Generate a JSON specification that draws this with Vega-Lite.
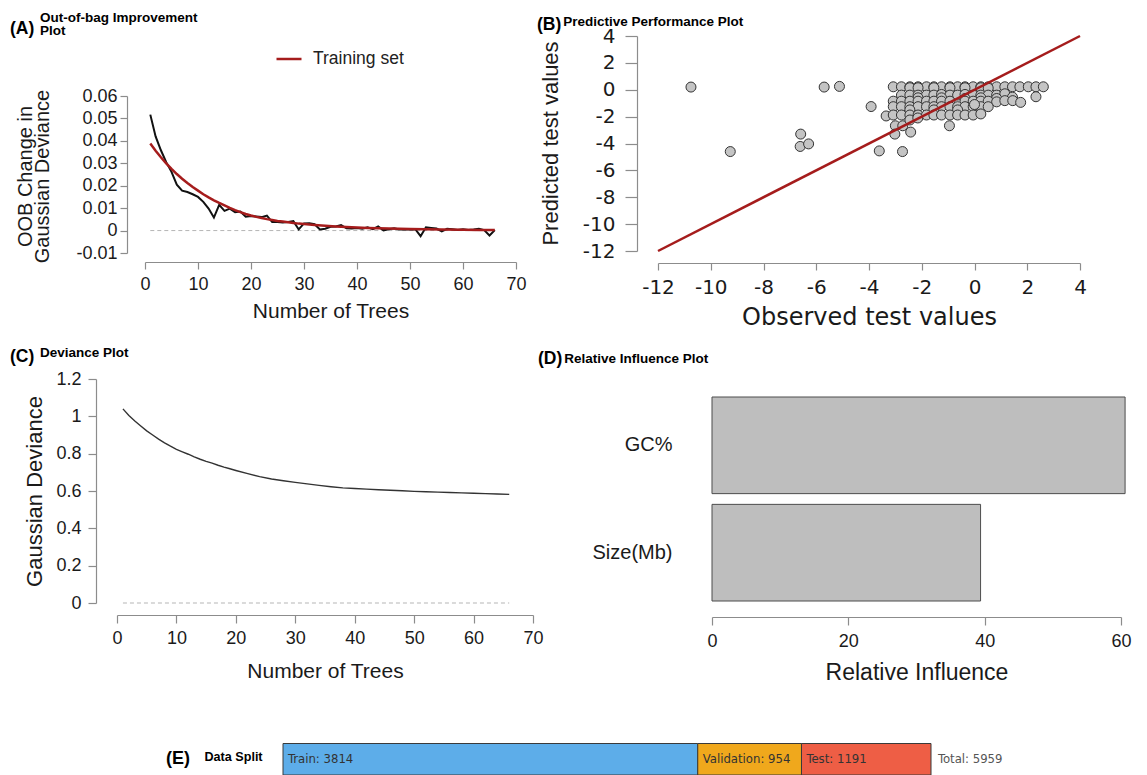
{
  "$schema": "https://vega.github.io/schema/vega-lite/v6.json",
  "padding": 0,
  "columns": 2,
  "bounds": "flush",
  "spacing": 0,
  "resolve": {"scale": {"color": "independent"}, "legend": {"color": "independent"}},
  "datasets": {
    "zeroA": [{"tree": 1, "tree_end": 66, "value": 0}],
    "oob": [
      {"tree":1,"value":0.0517},{"tree":2,"value":0.042},{"tree":3,"value":0.0358},{"tree":4,"value":0.0305},{"tree":5,"value":0.0262},
      {"tree":6,"value":0.0205},{"tree":7,"value":0.0178},{"tree":8,"value":0.0172},{"tree":9,"value":0.0162},{"tree":10,"value":0.015},
      {"tree":11,"value":0.0128},{"tree":12,"value":0.0098},{"tree":13,"value":0.0058},{"tree":14,"value":0.0115},{"tree":15,"value":0.0088},
      {"tree":16,"value":0.0098},{"tree":17,"value":0.0082},{"tree":18,"value":0.0085},{"tree":19,"value":0.0062},{"tree":20,"value":0.0065},
      {"tree":21,"value":0.0063},{"tree":22,"value":0.006},{"tree":23,"value":0.0067},{"tree":24,"value":0.0038},{"tree":25,"value":0.0038},
      {"tree":26,"value":0.0036},{"tree":27,"value":0.0038},{"tree":28,"value":0.0042},{"tree":29,"value":0.0005},{"tree":30,"value":0.0032},
      {"tree":31,"value":0.0033},{"tree":32,"value":0.0028},{"tree":33,"value":0.0005},{"tree":34,"value":0.0008},{"tree":35,"value":0.0017},
      {"tree":36,"value":0.0018},{"tree":37,"value":0.0025},{"tree":38,"value":0.001},{"tree":39,"value":0.0009},{"tree":40,"value":0.0011},
      {"tree":41,"value":0.0008},{"tree":42,"value":0.0015},{"tree":43,"value":0.0006},{"tree":44,"value":0.0018},{"tree":45,"value":0.0001},
      {"tree":46,"value":0.0006},{"tree":47,"value":0.001},{"tree":48,"value":0.0005},{"tree":49,"value":0.0006},{"tree":50,"value":0.0005},
      {"tree":51,"value":0.0006},{"tree":52,"value":-0.0025},{"tree":53,"value":0.0015},{"tree":54,"value":0.0012},{"tree":55,"value":0.0009},
      {"tree":56,"value":-0.0004},{"tree":57,"value":0.0008},{"tree":58,"value":0.0006},{"tree":59,"value":0.0003},{"tree":60,"value":0.0006},
      {"tree":61,"value":0.0003},{"tree":62,"value":0.0005},{"tree":63,"value":0.0008},{"tree":64,"value":0.0002},{"tree":65,"value":-0.0022},
      {"tree":66,"value":0.0002}
    ],
    "train": [
      {"tree":1,"value":0.0388,"series":"Training set"},{"tree":2,"value":0.0356,"series":"Training set"},{"tree":3,"value":0.0327,"series":"Training set"},
      {"tree":4,"value":0.03,"series":"Training set"},{"tree":5,"value":0.0275,"series":"Training set"},{"tree":6,"value":0.0252,"series":"Training set"},
      {"tree":7,"value":0.0231,"series":"Training set"},{"tree":8,"value":0.0212,"series":"Training set"},{"tree":9,"value":0.0194,"series":"Training set"},
      {"tree":10,"value":0.0178,"series":"Training set"},{"tree":11,"value":0.0162,"series":"Training set"},{"tree":12,"value":0.0148,"series":"Training set"},
      {"tree":13,"value":0.0135,"series":"Training set"},{"tree":14,"value":0.0123,"series":"Training set"},{"tree":15,"value":0.0112,"series":"Training set"},
      {"tree":16,"value":0.0101,"series":"Training set"},{"tree":17,"value":0.0091,"series":"Training set"},{"tree":18,"value":0.0082,"series":"Training set"},
      {"tree":19,"value":0.0074,"series":"Training set"},{"tree":20,"value":0.0067,"series":"Training set"},{"tree":21,"value":0.0061,"series":"Training set"},
      {"tree":22,"value":0.0056,"series":"Training set"},{"tree":23,"value":0.0051,"series":"Training set"},{"tree":24,"value":0.0047,"series":"Training set"},
      {"tree":25,"value":0.0043,"series":"Training set"},{"tree":26,"value":0.004,"series":"Training set"},{"tree":27,"value":0.0037,"series":"Training set"},
      {"tree":28,"value":0.0034,"series":"Training set"},{"tree":29,"value":0.0031,"series":"Training set"},{"tree":30,"value":0.0029,"series":"Training set"},
      {"tree":32,"value":0.0025,"series":"Training set"},{"tree":34,"value":0.0021,"series":"Training set"},{"tree":36,"value":0.0018,"series":"Training set"},
      {"tree":38,"value":0.0016,"series":"Training set"},{"tree":40,"value":0.0014,"series":"Training set"},{"tree":42,"value":0.0012,"series":"Training set"},
      {"tree":44,"value":0.001,"series":"Training set"},{"tree":46,"value":0.0009,"series":"Training set"},{"tree":48,"value":0.0008,"series":"Training set"},
      {"tree":50,"value":0.0007,"series":"Training set"},{"tree":53,"value":0.0006,"series":"Training set"},{"tree":56,"value":0.0005,"series":"Training set"},
      {"tree":60,"value":0.0004,"series":"Training set"},{"tree":63,"value":0.0003,"series":"Training set"},{"tree":66,"value":0.0002,"series":"Training set"}
    ],
    "diag": [{"observed": -12, "predicted": -12}, {"observed": 4, "predicted": 4}],
    "scatter": [
      {"observed":-10.75,"predicted":0.2},{"observed":-5.7,"predicted":0.2},{"observed":-5.12,"predicted":0.25},{"observed":-9.26,"predicted":-4.6},
      {"observed":-6.59,"predicted":-3.3},{"observed":-6.61,"predicted":-4.22},{"observed":-6.29,"predicted":-4.03},{"observed":-3.92,"predicted":-1.25},
      {"observed":-3.61,"predicted":-4.55},{"observed":-2.73,"predicted":-4.6},
      {"observed":-3.08,"predicted":0.22},{"observed":-2.77,"predicted":0.22},{"observed":-2.45,"predicted":0.22},{"observed":-2.14,"predicted":0.22},
      {"observed":-1.82,"predicted":0.22},{"observed":-1.54,"predicted":0.22},{"observed":-1.25,"predicted":0.22},{"observed":-0.93,"predicted":0.22},
      {"observed":-0.64,"predicted":0.22},{"observed":-0.36,"predicted":0.22},{"observed":-0.05,"predicted":0.22},{"observed":0.24,"predicted":0.22},
      {"observed":0.52,"predicted":0.22},{"observed":0.84,"predicted":0.22},{"observed":1.15,"predicted":0.22},{"observed":1.44,"predicted":0.22},
      {"observed":1.72,"predicted":0.22},{"observed":2.04,"predicted":0.22},{"observed":2.33,"predicted":0.22},{"observed":2.61,"predicted":0.22},
      {"observed":-2.45,"predicted":0.15},{"observed":-2.14,"predicted":0.15},{"observed":-1.54,"predicted":0.15},{"observed":-0.93,"predicted":0.15},
      {"observed":-0.36,"predicted":0.15},{"observed":0.24,"predicted":0.15},{"observed":0.52,"predicted":0.12},
      {"observed":-2.77,"predicted":-0.4},{"observed":-2.45,"predicted":-0.4},{"observed":-2.14,"predicted":-0.4},{"observed":-1.82,"predicted":-0.4},
      {"observed":-1.54,"predicted":-0.4},{"observed":-1.25,"predicted":-0.35},{"observed":-0.93,"predicted":-0.4},{"observed":-0.64,"predicted":-0.4},
      {"observed":-0.36,"predicted":-0.35},{"observed":-0.05,"predicted":-0.4},{"observed":0.24,"predicted":-0.4},{"observed":0.52,"predicted":-0.4},
      {"observed":0.84,"predicted":-0.4},{"observed":1.15,"predicted":-0.3},{"observed":1.44,"predicted":-0.55},{"observed":2.33,"predicted":-0.52},
      {"observed":-2.14,"predicted":-0.6},{"observed":-1.25,"predicted":-0.6},{"observed":-0.36,"predicted":-0.65},{"observed":0.24,"predicted":-0.6},
      {"observed":0.84,"predicted":-0.65},
      {"observed":-3.08,"predicted":-0.85},{"observed":-2.77,"predicted":-0.85},{"observed":-2.45,"predicted":-0.85},{"observed":-2.14,"predicted":-0.85},
      {"observed":-1.82,"predicted":-0.85},{"observed":-1.54,"predicted":-0.85},{"observed":-1.25,"predicted":-0.85},{"observed":-0.93,"predicted":-0.85},
      {"observed":-0.36,"predicted":-0.85},{"observed":-0.05,"predicted":-0.85},{"observed":0.24,"predicted":-0.85},{"observed":0.52,"predicted":-0.85},
      {"observed":0.84,"predicted":-0.9},{"observed":1.15,"predicted":-0.81},{"observed":1.45,"predicted":-0.81},{"observed":1.75,"predicted":-0.94},
      {"observed":-3.08,"predicted":-1.26},{"observed":-2.77,"predicted":-1.26},{"observed":-2.45,"predicted":-1.26},{"observed":-2.14,"predicted":-1.26},
      {"observed":-1.82,"predicted":-1.26},{"observed":-1.54,"predicted":-1.26},{"observed":-1.25,"predicted":-1.26},{"observed":-0.93,"predicted":-1.26},
      {"observed":-0.64,"predicted":-1.26},{"observed":-0.36,"predicted":-1.26},{"observed":-0.05,"predicted":-1.26},{"observed":0.24,"predicted":-1.26},
      {"observed":0.52,"predicted":-1.26},
      {"observed":-2.45,"predicted":-1.5},{"observed":-1.54,"predicted":-1.5},{"observed":-0.64,"predicted":-1.5},{"observed":0.0,"predicted":-1.1},
      {"observed":-3.35,"predicted":-1.95},{"observed":-3.08,"predicted":-1.88},{"observed":-2.77,"predicted":-1.88},{"observed":-2.45,"predicted":-1.88},
      {"observed":-2.14,"predicted":-1.88},{"observed":-1.82,"predicted":-1.88},{"observed":-1.54,"predicted":-1.88},{"observed":-1.25,"predicted":-1.88},
      {"observed":-0.93,"predicted":-1.88},{"observed":-0.64,"predicted":-1.88},{"observed":-0.36,"predicted":-1.88},{"observed":-0.05,"predicted":-1.88},
      {"observed":0.24,"predicted":-1.8},
      {"observed":-3.0,"predicted":-2.68},{"observed":-2.72,"predicted":-2.68},{"observed":-3.02,"predicted":-3.3},{"observed":-2.42,"predicted":-3.15},
      {"observed":-0.95,"predicted":-2.68},{"observed":-2.45,"predicted":-2.25},{"observed":-2.15,"predicted":-2.1}
    ],
    "zeroC": [{"tree": 1, "tree_end": 66, "deviance": 0}],
    "deviance": [
      {"tree":1,"deviance":1.04},{"tree":2,"deviance":1.005},{"tree":3,"deviance":0.975},{"tree":4,"deviance":0.948},{"tree":5,"deviance":0.922},
      {"tree":6,"deviance":0.9},{"tree":7,"deviance":0.878},{"tree":8,"deviance":0.858},{"tree":9,"deviance":0.84},{"tree":10,"deviance":0.823},
      {"tree":11,"deviance":0.81},{"tree":12,"deviance":0.797},{"tree":13,"deviance":0.783},{"tree":14,"deviance":0.77},{"tree":15,"deviance":0.759},
      {"tree":16,"deviance":0.749},{"tree":17,"deviance":0.738},{"tree":18,"deviance":0.728},{"tree":19,"deviance":0.719},{"tree":20,"deviance":0.71},
      {"tree":22,"deviance":0.693},{"tree":24,"deviance":0.677},{"tree":26,"deviance":0.664},{"tree":28,"deviance":0.655},{"tree":30,"deviance":0.646},
      {"tree":32,"deviance":0.638},{"tree":34,"deviance":0.63},{"tree":36,"deviance":0.623},{"tree":38,"deviance":0.617},{"tree":40,"deviance":0.613},
      {"tree":42,"deviance":0.61},{"tree":44,"deviance":0.607},{"tree":46,"deviance":0.604},{"tree":48,"deviance":0.601},{"tree":50,"deviance":0.598},
      {"tree":52,"deviance":0.596},{"tree":54,"deviance":0.594},{"tree":56,"deviance":0.592},{"tree":58,"deviance":0.59},{"tree":60,"deviance":0.588},
      {"tree":62,"deviance":0.586},{"tree":64,"deviance":0.584},{"tree":66,"deviance":0.582}
    ],
    "influence": [{"variable": "GC%", "influence": 60.6}, {"variable": "Size(Mb)", "influence": 39.4}],
    "split": [
      {"bar": "split", "part": "Train", "count": 3814, "order": 1, "label": "Train: 3814"},
      {"bar": "split", "part": "Validation", "count": 954, "order": 2, "label": "Validation: 954"},
      {"bar": "split", "part": "Test", "count": 1191, "order": 3, "label": "Test: 1191"}
    ],
    "total": [{"bar": "split", "total": 5959, "label": "Total: 5959"}]
  },
  "concat": [
    {
      "width": 536,
      "height": 340,
      "title": {"text": "(A)", "subtitle": ["\u200d\u00a0\u00a0\u00a0\u00a0\u00a0\u00a0\u00a0\u00a0Out-of-bag Improvement", "\u200d\u00a0\u00a0\u00a0\u00a0\u00a0\u00a0\u00a0\u00a0Plot"], "dx": 10, "offset": -47, "subtitlePadding": -27},
      "layer": [
        {
          "data": {"name": "zeroA"},
          "mark": {"type": "rule", "color": "#b5b5b5", "strokeDash": [4, 3], "strokeWidth": 1},
          "encoding": {
            "x": {"field": "tree", "type": "quantitative",
              "scale": {"domain": [0, 70], "range": [145, 516], "nice": false, "zero": false},
              "axis": {"orient": "bottom", "offset": -78, "values": [0, 10, 20, 30, 40, 50, 60, 70], "format": "d",
                "title": "Number of Trees", "titleFontSize": 21, "titleY": 49, "titleBaseline": "middle",
                "labelFontSize": 18, "tickSize": 7, "labelPadding": 6}},
            "x2": {"field": "tree_end"},
            "y": {"field": "value", "type": "quantitative",
              "scale": {"domain": [-0.01, 0.06], "range": [253, 96], "nice": false, "zero": false},
              "axis": {"orient": "left", "offset": -127, "values": [-0.01, 0, 0.01, 0.02, 0.03, 0.04, 0.05, 0.06],
                "labelExpr": "datum.value < 0 ? '-' + format(-datum.value, '~g') : format(datum.value, '~g')",
                "title": ["OOB Change in", "Gaussian Deviance"], "titleFontSize": 20, "titleLineHeight": 17.5,
                "titleX": -102, "titleY": 176, "titleBaseline": "middle",
                "labelFontSize": 18, "tickSize": 7, "labelPadding": 3}}
          }
        },
        {
          "data": {"name": "oob"},
          "mark": {"type": "line", "color": "#111111", "strokeWidth": 2},
          "encoding": {
            "x": {"field": "tree", "type": "quantitative"},
            "y": {"field": "value", "type": "quantitative"}
          }
        },
        {
          "data": {"name": "train"},
          "mark": {"type": "line", "strokeWidth": 2.5},
          "encoding": {
            "x": {"field": "tree", "type": "quantitative"},
            "y": {"field": "value", "type": "quantitative"},
            "color": {"field": "series", "type": "nominal",
              "scale": {"domain": ["Training set"], "range": ["#a51c1c"]},
              "legend": {"orient": "none", "legendX": 275, "legendY": 45, "title": null, "labelFontSize": 17.5,
                "labelFont": "Liberation Sans", "labelColor": "#222222", "symbolType": "stroke", "symbolStrokeWidth": 2.5,
                "symbolSize": 625, "labelOffset": 10, "padding": 0}}
          }
        }
      ]
    },
    {
      "width": 611,
      "height": 340,
      "title": {"text": "(B)", "subtitle": "\u200d\u00a0\u00a0\u00a0\u00a0\u00a0\u00a0\u00a0Predictive Performance Plot", "dx": 1, "offset": -34, "subtitlePadding": -18.5},
      "layer": [
        {
          "data": {"name": "scatter"},
          "mark": {"type": "point", "shape": "circle", "filled": true, "fill": "#c4c4c4", "stroke": "#333333", "strokeWidth": 1, "size": 100, "opacity": 1},
          "encoding": {
            "x": {"field": "observed", "type": "quantitative",
              "scale": {"domain": [-12, 4], "range": [122, 544], "nice": false, "zero": false},
              "axis": {"orient": "bottom", "offset": -77, "values": [-12, -10, -8, -6, -4, -2, 0, 2, 4],
                "labelExpr": "datum.value < 0 ? '-' + format(-datum.value, '~g') : format(datum.value, '~g')",
                "title": "Observed test values", "titleFont": "DejaVu Sans", "titleFontSize": 24, "titleY": 54, "titleBaseline": "middle",
                "labelFont": "DejaVu Sans", "labelFontSize": 20, "tickSize": 7, "labelPadding": 7}},
            "y": {"field": "predicted", "type": "quantitative",
              "scale": {"domain": [-12, 4], "range": [251, 36], "nice": false, "zero": false},
              "axis": {"orient": "left", "offset": -101, "values": [-12, -10, -8, -6, -4, -2, 0, 2, 4],
                "labelExpr": "datum.value < 0 ? '-' + format(-datum.value, '~g') : format(datum.value, '~g')",
                "title": "Predicted test values", "titleFontSize": 22, "titleX": -87, "titleY": 143, "titleBaseline": "middle",
                "labelFont": "DejaVu Sans", "labelFontSize": 20, "tickSize": 12, "labelPadding": 10}}
          }
        },
        {
          "data": {"name": "diag"},
          "mark": {"type": "line", "color": "#a51c1c", "strokeWidth": 2.5},
          "encoding": {
            "x": {"field": "observed", "type": "quantitative"},
            "y": {"field": "predicted", "type": "quantitative"}
          }
        }
      ]
    },
    {
      "width": 536,
      "height": 360,
      "title": {"text": "(C)", "subtitle": "\u200d\u00a0\u00a0\u00a0\u00a0\u00a0\u00a0\u00a0\u00a0Deviance Plot", "dx": 10, "offset": -27, "subtitlePadding": -19.5},
      "layer": [
        {
          "data": {"name": "zeroC"},
          "mark": {"type": "rule", "color": "#b5b5b5", "strokeDash": [4, 3], "strokeWidth": 1},
          "encoding": {
            "x": {"field": "tree", "type": "quantitative",
              "scale": {"domain": [0, 70], "range": [117, 533], "nice": false, "zero": false},
              "axis": {"orient": "bottom", "offset": -85, "values": [0, 10, 20, 30, 40, 50, 60, 70], "format": "d",
                "title": "Number of Trees", "titleFontSize": 21, "titleY": 56, "titleBaseline": "middle",
                "labelFontSize": 18, "tickSize": 8, "labelPadding": 6}},
            "x2": {"field": "tree_end"},
            "y": {"field": "deviance", "type": "quantitative",
              "scale": {"domain": [0, 1.2], "range": [263, 39], "nice": false, "zero": false},
              "axis": {"orient": "left", "offset": -96, "values": [0, 0.2, 0.4, 0.6, 0.8, 1, 1.2],
                "labelExpr": "format(datum.value, '~g')",
                "title": "Gaussian Deviance", "titleFontSize": 22, "titleX": -62, "titleY": 151, "titleBaseline": "middle",
                "labelFontSize": 18, "tickSize": 8, "labelPadding": 7}}
          }
        },
        {
          "data": {"name": "deviance"},
          "mark": {"type": "line", "color": "#333333", "strokeWidth": 1.4},
          "encoding": {
            "x": {"field": "tree", "type": "quantitative"},
            "y": {"field": "deviance", "type": "quantitative"}
          }
        }
      ]
    },
    {
      "width": 611,
      "height": 360,
      "title": {"text": "(D)", "subtitle": "\u200d\u00a0\u00a0\u00a0\u00a0\u00a0\u00a0\u00a0Relative Influence Plot", "dx": 2, "offset": -27, "subtitlePadding": -15.5},
      "data": {"name": "influence"},
      "mark": {"type": "bar", "fill": "#bebebe", "stroke": "#4d4d4d", "strokeWidth": 1},
      "encoding": {
        "x": {"field": "influence", "type": "quantitative",
          "scale": {"domain": [0, 60], "range": [176, 585], "nice": false},
          "axis": {"orient": "bottom", "offset": -83, "values": [0, 20, 40, 60],
            "title": "Relative Influence", "titleFontSize": 23, "titleY": 55, "titleBaseline": "middle",
            "labelFontSize": 18, "tickSize": 8, "labelPadding": 7}},
        "y": {"field": "variable", "type": "nominal", "sort": ["GC%", "Size(Mb)"],
          "scale": {"domain": ["GC%", "Size(Mb)"], "range": [57, 261], "paddingInner": 0.1, "paddingOuter": 0},
          "axis": {"orient": "left", "offset": -136, "domain": false, "ticks": false, "tickSize": 0, "labelPadding": 0,
            "labelFontSize": 20, "title": null}}
      }
    },
    {
      "width": 536,
      "height": 75,
      "title": {"text": "(E)", "subtitle": "\u200d\u00a0\u00a0\u00a0\u00a0\u00a0\u00a0\u00a0\u00a0\u00a0\u00a0\u00a0Data Split", "dx": 166, "offset": -67.5, "subtitlePadding": -16.5, "fontSize": 18, "subtitleFontSize": 12.6},
      "layer": [
        {
          "data": {"name": "split"},
          "transform": [{"stack": "count", "groupby": ["bar"], "sort": [{"field": "order", "order": "ascending"}], "as": ["start", "end"]}],
          "mark": {"type": "rect", "stroke": "#3a3a3a", "strokeWidth": 1},
          "encoding": {
            "x": {"field": "start", "type": "quantitative",
              "scale": {"domain": [0, 5959], "range": [283, 931], "nice": false, "zero": false}, "axis": null},
            "x2": {"field": "end"},
            "y": {"field": "bar", "type": "nominal", "scale": {"range": [43.5, 75], "paddingInner": 0, "paddingOuter": 0}, "axis": null},
            "color": {"field": "part", "type": "nominal",
              "scale": {"domain": ["Train", "Validation", "Test"], "range": ["#5DADE9", "#F0A81C", "#EE5E45"]}, "legend": null}
          }
        },
        {
          "data": {"name": "split"},
          "transform": [{"stack": "count", "groupby": ["bar"], "sort": [{"field": "order", "order": "ascending"}], "as": ["start", "end"]}],
          "mark": {"type": "text", "align": "left", "baseline": "middle", "dx": 5, "font": "Liberation Sans Narrow, DejaVu Sans Condensed, Roboto Condensed, Roboto", "fontSize": 13, "color": "#333333"},
          "encoding": {
            "x": {"field": "start", "type": "quantitative"},
            "y": {"field": "bar", "type": "nominal"},
            "text": {"field": "label"}
          }
        },
        {
          "data": {"name": "total"},
          "mark": {"type": "text", "align": "left", "baseline": "middle", "dx": 7, "font": "Liberation Sans Narrow, DejaVu Sans Condensed, Roboto Condensed, Roboto", "fontSize": 13, "color": "#555555"},
          "encoding": {
            "x": {"field": "total", "type": "quantitative"},
            "y": {"field": "bar", "type": "nominal"},
            "text": {"field": "label"}
          }
        }
      ]
    }
  ],
  "config": {
    "view": {"stroke": null},
    "font": "Liberation Sans",
    "axis": {"grid": false, "labelFlush": false, "labelOverlap": false, "domainColor": "#8c8c8c", "tickColor": "#8c8c8c",
      "domainWidth": 1.2, "tickWidth": 1.2, "labelColor": "#1a1a1a", "titleColor": "#1a1a1a", "titleFontWeight": "normal",
      "labelFont": "Liberation Sans", "titleFont": "Liberation Sans"},
    "title": {"anchor": "start", "frame": "group", "font": "Liberation Sans", "fontWeight": "bold", "fontSize": 17.5, "color": "#000000",
      "subtitleFont": "Liberation Sans", "subtitleFontWeight": "bold", "subtitleFontSize": 13.5, "subtitleColor": "#000000", "subtitleLineHeight": 13}
  }
}
